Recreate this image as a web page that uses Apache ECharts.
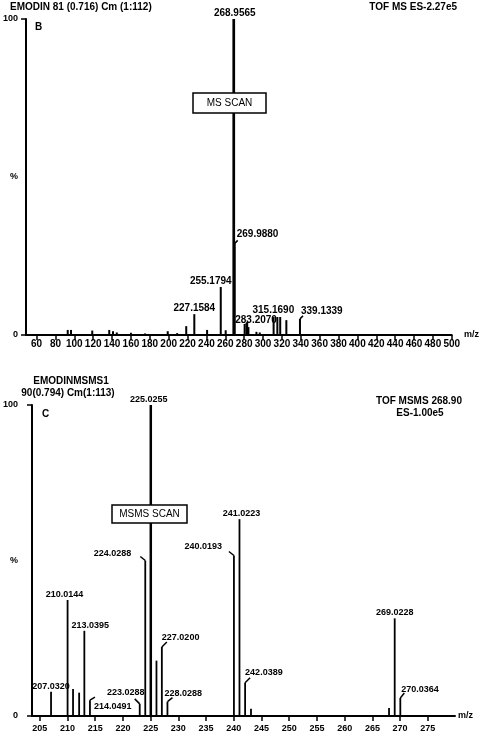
<!DOCTYPE html>
<html lang="en">
<head>
<meta charset="utf-8">
<title>EMODIN MS / MSMS</title>
<script src="https://cdn.jsdelivr.net/npm/echarts@6/dist/echarts.min.js"></script>
</head>
<body style="margin:0">
<div id="main" style="width:480px;height:736px"></div>
<script>
// --- B: MS scan ---
const msPeakMz = [268.9565, 269.9880, 255.1794, 227.1584, 283.2070, 315.1690, 339.1339];
const msPeakInt = [100, 29, 15.2, 6.6, 4.1, 5.7, 5.1];
const msMinorMz = [93, 96.5, 119, 137, 141, 145, 160, 175, 199, 209, 218.6, 240.7, 260.4, 280.5, 282.5, 284.5, 293, 296.5, 311.2, 318.2, 324.7];
const msMinorInt = [1.6, 1.6, 1.4, 1.6, 1.2, 0.8, 0.7, 0.5, 1.2, 0.6, 2.8, 1.6, 1.5, 3.5, 3.8, 2.5, 1.0, 0.8, 5.7, 5.7, 4.7];
const msTicks = [60, 80, 100, 120, 140, 160, 180, 200, 220, 240, 260, 280, 300, 320, 340, 360, 380, 400, 420, 440, 460, 480, 500];

// --- C: MSMS scan ---
const msmsPeakMz = [225.0255, 241.0223, 240.0193, 224.0288, 210.0144, 213.0395, 207.0320, 214.0491, 223.0288, 227.0200, 228.0288, 242.0389, 269.0228, 270.0364];
const msmsPeakInt = [100, 63.3, 51.6, 50, 37.3, 27.4, 7.8, 5.1, 3.9, 22.2, 4.6, 10.7, 31.4, 5.8];
const msmsMinorMz = [211.0, 212.1, 226.05, 243.1, 268.0];
const msmsMinorInt = [8.7, 7.5, 17.8, 2.3, 2.6];
const msmsTicks = [205, 210, 215, 220, 225, 230, 235, 240, 245, 250, 255, 260, 265, 270, 275];

// label placement: [dx, dy, align, vAlign, leaderDx, leaderDy] from the peak top
const msLayout = {
  '268.9565': [1, -1, 'center', 'bottom'],
  '269.9880': [2, -4, 'left', 'bottom', 3, -3],
  '255.1794': [-10, -1, 'center', 'bottom'],
  '227.1584': [0, -1, 'center', 'bottom'],
  '283.2070': [-12, 3, 'left', 'bottom'],
  '315.1690': [-4, -2, 'center', 'bottom'],
  '339.1339': [1, -3, 'left', 'bottom', 3, -3]
};
const msmsLayout = {
  '225.0255': [-2, -1, 'center', 'bottom'],
  '241.0223': [2, -1, 'center', 'bottom'],
  '240.0193': [-12, -9, 'right', 'middle', -5, -4],
  '224.0288': [-14, -7, 'right', 'middle', -5, -4],
  '210.0144': [-3, -1, 'center', 'bottom'],
  '213.0395': [6, -1, 'center', 'bottom'],
  '207.0320': [0, -1, 'center', 'bottom'],
  '214.0491': [4, 6, 'left', 'middle', 5, -3],
  '223.0288': [-14, -11, 'center', 'middle', -5, -5],
  '227.0200': [0, -9, 'left', 'middle', 5, -5],
  '228.0288': [-3, -8, 'left', 'middle', 5, -4],
  '242.0389': [0, -10, 'left', 'middle', 5, -5],
  '269.0228': [0, -1, 'center', 'bottom'],
  '270.0364': [1, -8, 'left', 'middle', 4, -5]
};

const FONT = '"Liberation Sans", Arial, sans-serif';

function buildData(pMz, pInt, mMz, mInt) {
  const data = pMz.map((m, i) => [m, pInt[i]]).concat(mMz.map((m, i) => [m, mInt[i]]));
  const labels = pMz.map(m => m.toFixed(4)).concat(mMz.map(() => null));
  return { data, labels };
}

function stickRenderer(labels, layout, width, fontSize) {
  return function (params, api) {
    const mz = api.value(0), h = api.value(1);
    const base = api.coord([mz, 0]);
    const top = api.coord([mz, h]);
    const kids = [{
      type: 'line',
      shape: { x1: base[0], y1: base[1], x2: top[0], y2: top[1] },
      style: { stroke: '#000', lineWidth: h >= 99 ? width + 0.7 : width }
    }];
    const lab = labels[params.dataIndex];
    if (lab) {
      const L = layout[lab] || [0, -1, 'center', 'bottom'];
      if (L[4] != null) {
        kids.push({
          type: 'line',
          shape: { x1: top[0], y1: top[1], x2: top[0] + L[4], y2: top[1] + L[5] },
          style: { stroke: '#000', lineWidth: 1.5 }
        });
      }
      kids.push({
        type: 'text',
        x: top[0] + L[0], y: top[1] + L[1],
        style: { text: lab, fill: '#000', font: 'bold ' + fontSize + 'px ' + FONT, align: L[2], verticalAlign: L[3] }
      });
    }
    return { type: 'group', children: kids };
  };
}

const ms = buildData(msPeakMz, msPeakInt, msMinorMz, msMinorInt);
const msms = buildData(msmsPeakMz, msmsPeakInt, msmsMinorMz, msmsMinorInt);

function xAxisOf(idx, min, max, ticks, gap, labelMargin, size) {
  return {
    type: 'value', gridIndex: idx, min: min, max: max,
    name: 'm/z', nameLocation: 'end', nameGap: gap,
    nameTextStyle: { color: '#000', fontSize: 9, fontWeight: 'bold', fontFamily: FONT },
    splitLine: { show: false },
    axisLine: { lineStyle: { color: '#000', width: 2 } },
    axisTick: { customValues: ticks, length: 5, lineStyle: { color: '#000', width: 1.5 } },
    axisLabel: { customValues: ticks, margin: labelMargin, color: '#000', fontSize: size, fontWeight: 'bold', fontFamily: FONT }
  };
}

function yAxisOf(idx, margin) {
  return {
    type: 'value', gridIndex: idx, min: 0, max: 100,
    splitLine: { show: false },
    axisLine: { lineStyle: { color: '#000', width: 2 } },
    axisTick: { customValues: [0, 100], length: 5, lineStyle: { color: '#000', width: 1.5 } },
    axisLabel: {
      customValues: [0, 50, 100], margin: margin, color: '#000', fontSize: 9, fontWeight: 'bold', fontFamily: FONT,
      formatter: v => (v === 50 ? '%' : String(v))
    }
  };
}

function txt(x, y, text, align, weight, size) {
  return {
    type: 'text', x: x, y: y,
    style: { text: text, fill: '#000', font: (weight || 'bold') + ' ' + (size || 10) + 'px ' + FONT, align: align || 'left', verticalAlign: 'middle' }
  };
}

function box(x, y, w, h, label) {
  return [
    { type: 'rect', shape: { x: x, y: y, width: w, height: h }, style: { fill: '#fff', stroke: '#000', lineWidth: 1.5 }, z: 10 },
    Object.assign(txt(x + w / 2, y + h / 2, label, 'center', 'normal', 10), { z: 11 })
  ];
}

const chart = echarts.init(document.getElementById('main'), null, { renderer: 'canvas' });
chart.setOption({
  animation: false,
  backgroundColor: '#fff',
  grid: [
    { left: 23, top: 19, width: 434, height: 316 },
    { left: 31, top: 405, width: 424, height: 311 }
  ],
  xAxis: [
    xAxisOf(0, 48.8, 500, msTicks, 4, 4, 10),
    xAxisOf(1, 203.6, 279.9, msmsTicks, 3, 8, 9)
  ],
  yAxis: [yAxisOf(0, 8), yAxisOf(1, 14)],
  graphic: [
    txt(10, 7, 'EMODIN 81 (0.716) Cm (1:112)', 'left'),
    txt(457, 7, 'TOF MS ES-2.27e5', 'right'),
    txt(35, 27, 'B', 'left'),
    txt(71, 381, 'EMODINMSMS1', 'center'),
    txt(68, 393, '90(0.794) Cm(1:113)', 'center'),
    txt(419, 401, 'TOF MSMS 268.90', 'center'),
    txt(420, 413, 'ES-1.00e5', 'center'),
    txt(42, 414, 'C', 'left')
  ].concat(box(193, 93, 73, 20, 'MS SCAN'), box(112, 505, 75, 18, 'MSMS SCAN')),
  series: [
    {
      type: 'custom', xAxisIndex: 0, yAxisIndex: 0,
      renderItem: stickRenderer(ms.labels, msLayout, 2, 10),
      data: ms.data
    },
    {
      type: 'custom', xAxisIndex: 1, yAxisIndex: 1,
      renderItem: stickRenderer(msms.labels, msmsLayout, 1.8, 9),
      data: msms.data
    }
  ]
});
</script>
</body>
</html>
